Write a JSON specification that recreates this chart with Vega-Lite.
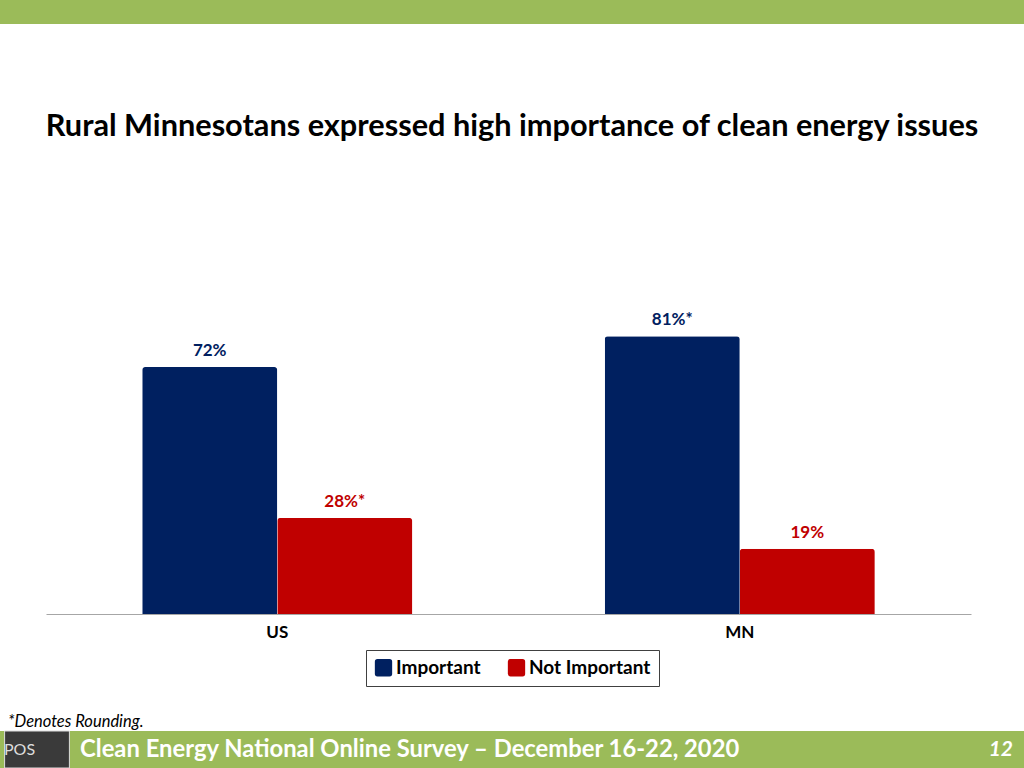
{
  "$schema": "https://vega.github.io/schema/vega-lite/v6.json",
  "padding": 0,
  "spacing": 27,
  "background": "white",
  "config": {"view": {"stroke": null}, "font": "Lato", "legend": {"layout": {"bottom": {"anchor": "middle"}}}},
  "resolve": {"scale": {"x": "independent", "y": "independent", "color": "independent"}, "legend": {"color": "independent"}},
  "vconcat": [
    {
      "width": 1024,
      "height": 24,
      "view": {"fill": "#9BBB59", "stroke": null},
      "data": {"values": [{"k": "band"}]},
      "mark": {"type": "text", "text": ""},
      "encoding": {
        "x": {"field": "k", "type": "nominal", "axis": {"labels": false, "ticks": false, "domain": false, "grid": false, "title": null, "minExtent": 60, "maxExtent": 60}}
      }
    },
    {
      "width": 1024,
      "height": 343,
      "title": {"text": "Rural Minnesotans expressed high importance of clean energy issues", "font": "Lato", "fontSize": 30.7, "fontWeight": "bold", "color": "black", "anchor": "middle", "offset": 128},
      "data": {"values": [
        {"region": "US", "response": "Important", "pct": 72, "label": "72%"},
        {"region": "US", "response": "Not Important", "pct": 28, "label": "28%*"},
        {"region": "MN", "response": "Important", "pct": 81, "label": "81%*"},
        {"region": "MN", "response": "Not Important", "pct": 19, "label": "19%"}
      ]},
      "encoding": {
        "x": {"field": "region", "type": "nominal", "sort": ["US", "MN"],
          "scale": {"range": [46, 971], "paddingInner": 0.416, "paddingOuter": 0.208},
          "axis": {"title": null, "labelAngle": 0, "ticks": false, "labelPadding": 10, "labelFont": "Lato", "labelFontWeight": "bold", "labelFontSize": 17, "labelColor": "black", "domainColor": "#A6A6A6", "domainWidth": 1, "grid": false}},
        "xOffset": {"field": "response", "type": "nominal", "sort": ["Important", "Not Important"], "scale": {"paddingInner": 0, "paddingOuter": 0}},
        "y": {"field": "pct", "type": "quantitative", "scale": {"domain": [0, 100]}, "axis": null},
        "color": {"field": "response", "type": "nominal",
          "scale": {"domain": ["Important", "Not Important"], "range": ["#002060", "#C00000"]},
          "legend": {"orient": "bottom", "direction": "horizontal", "title": null, "strokeColor": "#404040", "fillColor": "white", "padding": 8, "offset": 10,
            "labelFont": "Lato", "labelFontWeight": "bold", "labelFontSize": 19, "labelColor": "black", "labelOffset": 3, "columnPadding": 26,
            "symbolType": "M -0.7 -1 H 0.7 Q 1 -1 1 -0.7 V 0.7 Q 1 1 0.7 1 H -0.7 Q -1 1 -1 0.7 V -0.7 Q -1 -1 -0.7 -1 Z",
            "symbolSize": 300, "symbolStrokeWidth": 0, "symbolOpacity": 1}}
      },
      "layer": [
        {"mark": {"type": "bar", "cornerRadiusTopLeft": 3, "cornerRadiusTopRight": 3}},
        {"mark": {"type": "text", "baseline": "bottom", "dy": -7, "font": "Lato", "fontWeight": "bold", "fontSize": 17},
          "encoding": {"text": {"field": "label"}}}
      ]
    },
    {
      "width": 1024,
      "height": 37,
      "view": {"fill": "#9BBB59", "stroke": null},
      "title": {"text": "*Denotes Rounding.", "anchor": "start", "font": "Lato", "fontStyle": "italic", "fontWeight": "normal", "fontSize": 16.5, "color": "black", "offset": 0, "dx": 8},
      "data": {"values": [
        {"part": "logo", "text": "POS"},
        {"part": "title", "text": "Clean Energy National Online Survey – December 16-22, 2020"},
        {"part": "page", "text": "12"}
      ]},
      "layer": [
        {"transform": [{"filter": "datum.part === 'logo'"}],
          "mark": {"type": "bar", "color": "#3A3A3A", "stroke": "#DDDDDD", "strokeWidth": 1},
          "encoding": {"x": {"field": "part", "type": "nominal", "scale": {"range": [1, 73]}, "axis": null}}},
        {"transform": [{"filter": "datum.part === 'logo'"}],
          "mark": {"type": "text", "align": "left", "color": "#DDDDDD", "font": "Lato", "fontSize": 16},
          "encoding": {"x": {"field": "part", "type": "nominal", "scale": {"type": "point", "range": [4, 4]}, "axis": null}, "text": {"field": "text"}}},
        {"transform": [{"filter": "datum.part === 'title'"}],
          "mark": {"type": "text", "align": "left", "color": "white", "font": "Lato", "fontWeight": "bold", "fontSize": 23.8},
          "encoding": {"x": {"field": "part", "type": "nominal", "scale": {"type": "point", "range": [80, 80]}, "axis": null}, "text": {"field": "text"}}},
        {"transform": [{"filter": "datum.part === 'page'"}],
          "mark": {"type": "text", "align": "right", "color": "white", "font": "Lato", "fontWeight": "bold", "fontStyle": "italic", "fontSize": 21},
          "encoding": {"x": {"field": "part", "type": "nominal", "scale": {"type": "point", "range": [1013, 1013]}, "axis": null}, "text": {"field": "text"}}}
      ],
      "resolve": {"scale": {"x": "independent"}}
    }
  ]
}
